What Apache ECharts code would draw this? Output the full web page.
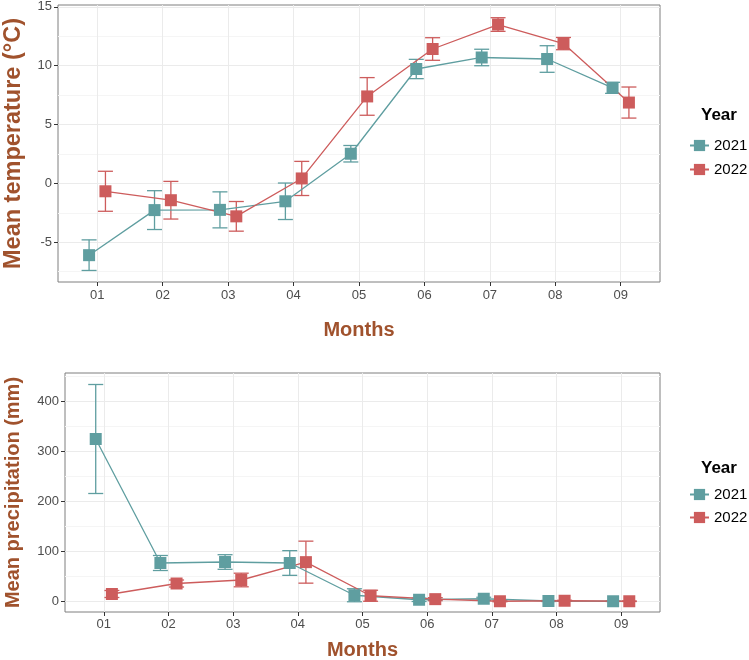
<!DOCTYPE html>
<html>
<head>
<meta charset="utf-8">
<script src="https://cdn.jsdelivr.net/npm/echarts@6/dist/echarts.min.js"></script>
<style>
html,body{margin:0;padding:0;background:#fff;}
#c{width:749px;height:660px;}
</style>
</head>
<body>
<div id="c"></div>
<script>
// ---- data ----
const months = ['01','02','03','04','05','06','07','08','09'];
const years = ['2021','2022'];
const temp2021   = [-6.1, -2.27, -2.25, -1.52, 2.52, 9.72, 10.7, 10.57, 8.12];
const temp2021Se = [1.3, 1.65, 1.53, 1.55, 0.7, 0.82, 0.7, 1.13, 0.47];
const temp2022   = [-0.67, -1.43, -2.8, 0.42, 7.39, 11.42, 13.5, 11.88, 6.87];
const temp2022Se = [1.7, 1.6, 1.26, 1.45, 1.6, 0.96, 0.58, 0.52, 1.32];
const prec2021   = [325, 77, 79, 77, 12.5, 3.5, 5.5, 1, 0.5];
const prec2021Se = [109, 15, 14.6, 24.7, 13, 3.5, 3, 1, 0.5];
const prec2022   = [15, 36, 43, 78.7, 11.5, 4.7, 0.5, 1.5, 0.5];
const prec2022Se = [7, 7, 13.6, 42, 11, 3, 1, 1, 0.5];
const tempTicks = [-5, 0, 5, 10, 15];
const tempMinor = [-7.5, -2.5, 2.5, 7.5, 12.5];
const precTicks = [0, 100, 200, 300, 400];
const precMinor = [50, 150, 250, 350, 450];

// ---- style ----
const COLORS = {'2021': '#5F9EA0', '2022': '#CD5C5C'};
const DODGE = 0.125;
const FONT = 'Liberation Sans';
const TITLE_COLOR = '#A0522D';
const monthPos = months.map((m, i) => i + 1);

function pts(vals, off) { return vals.map((v, i) => [monthPos[i] + off, v]); }
function errs(vals, se, off) { return vals.map((v, i) => [monthPos[i] + off, v, v - se[i], v + se[i]]); }

function errRender(params, api) {
  const x = api.value(0);
  const lo = api.coord([x, api.value(2)]);
  const hi = api.coord([x, api.value(3)]);
  const w = 7.5;
  const style = {stroke: api.visual('color'), lineWidth: 1.3, fill: null};
  return {type: 'group', children: [
    {type: 'line', shape: {x1: hi[0], y1: hi[1], x2: lo[0], y2: lo[1]}, style: style},
    {type: 'line', shape: {x1: hi[0] - w, y1: hi[1], x2: hi[0] + w, y2: hi[1]}, style: style},
    {type: 'line', shape: {x1: lo[0] - w, y1: lo[1], x2: lo[0] + w, y2: lo[1]}, style: style}
  ]};
}

function lineSeries(name, vals, off, idx) {
  return {
    type: 'line', name: name, xAxisIndex: idx, yAxisIndex: idx * 2,
    data: pts(vals, off), symbol: 'rect', symbolSize: 12, showSymbol: true,
    color: COLORS[name], lineStyle: {width: 1.3, color: COLORS[name]},
    itemStyle: {color: COLORS[name]}, z: 3, animation: false
  };
}
function errSeries(name, vals, se, off, idx) {
  return {
    type: 'custom', name: name + ' se', xAxisIndex: idx, yAxisIndex: idx * 2,
    data: errs(vals, se, off), renderItem: errRender,
    itemStyle: {color: COLORS[name]}, encode: {x: 0, y: [1, 2, 3]}, z: 2, animation: false
  };
}

const labelStyle = {color: '#4D4D4D', fontSize: 13, fontFamily: FONT};
function xAxis(gridIndex, margin, nameGap) {
  return {
    type: 'value', gridIndex: gridIndex, min: 0.4, max: 9.6, position: 'bottom',
    name: 'Months', nameLocation: 'middle', nameGap: nameGap,
    nameTextStyle: {color: TITLE_COLOR, fontSize: 20, fontWeight: 'bold', fontFamily: FONT},
    axisLine: {show: false, onZero: false},
    axisTick: {show: true, length: 4, lineStyle: {color: '#333'}, customValues: monthPos},
    axisLabel: Object.assign({margin: margin, customValues: monthPos,
      formatter: v => months[Math.round(v) - 1]}, labelStyle),
    splitLine: {show: true, lineStyle: {color: '#EBEBEB', width: 1}}
  };
}
function yAxes(gridIndex, min, max, ticks, minor, name, nameSize, nameGap) {
  return [{
    type: 'value', gridIndex: gridIndex, min: min, max: max, position: 'left',
    name: name, nameLocation: 'middle', nameGap: nameGap, nameRotate: 90,
    nameTextStyle: {color: TITLE_COLOR, fontSize: nameSize, fontWeight: 'bold', fontFamily: FONT},
    axisLine: {show: false, onZero: false},
    axisTick: {show: true, length: 4, lineStyle: {color: '#333'}, customValues: ticks},
    axisLabel: Object.assign({margin: 6, customValues: ticks}, labelStyle),
    splitLine: {show: true, lineStyle: {color: '#EBEBEB', width: 1}}
  }, {
    type: 'value', gridIndex: gridIndex, min: min, max: max, position: 'left',
    axisLine: {show: false, onZero: false}, axisLabel: {show: false},
    axisTick: {show: false, customValues: minor},
    splitLine: {show: true, lineStyle: {color: '#F5F5F5', width: 1}}
  }];
}

const chart = echarts.init(document.getElementById('c'), null, {renderer: 'canvas'});
chart.setOption({
  backgroundColor: '#fff',
  animation: false,
  textStyle: {fontFamily: FONT},
  grid: [
    {left: 58, top: 5, width: 602, height: 277, show: true, borderColor: '#7F7F7F', borderWidth: 1,
     backgroundColor: '#fff', containLabel: false, outerBoundsMode: 'none'},
    {left: 65, top: 373, width: 595, height: 239, show: true, borderColor: '#7F7F7F', borderWidth: 1,
     backgroundColor: '#fff', containLabel: false, outerBoundsMode: 'none'}
  ],
  xAxis: [xAxis(0, 7, 38), xAxis(1, 6, 28)],
  yAxis: yAxes(0, -8.38, 15.16, tempTicks, tempMinor, 'Mean temperature (°C)', 23.5, 32)
    .concat(yAxes(1, -21, 457, precTicks, precMinor, 'Mean precipitation (mm)', 20, 42)),
  title: [
    {text: 'Year', left: 696, top: 102, textStyle: {fontSize: 17, fontWeight: 'bold', color: '#000', fontFamily: FONT}},
    {text: 'Year', left: 696, top: 455, textStyle: {fontSize: 17, fontWeight: 'bold', color: '#000', fontFamily: FONT}}
  ],
  legend: [
    {data: years, left: 684, top: 133, orient: 'vertical', itemWidth: 19, itemHeight: 14, itemGap: 9,
     textStyle: {fontSize: 15, color: '#000', fontFamily: FONT}, selectedMode: false},
    {data: years, left: 684, top: 482, orient: 'vertical', itemWidth: 19, itemHeight: 14, itemGap: 8,
     textStyle: {fontSize: 15, color: '#000', fontFamily: FONT}, selectedMode: false}
  ],
  series: [
    lineSeries('2021', temp2021, -DODGE, 0),
    lineSeries('2022', temp2022, DODGE, 0),
    errSeries('2021', temp2021, temp2021Se, -DODGE, 0),
    errSeries('2022', temp2022, temp2022Se, DODGE, 0),
    lineSeries('2021', prec2021, -DODGE, 1),
    lineSeries('2022', prec2022, DODGE, 1),
    errSeries('2021', prec2021, prec2021Se, -DODGE, 1),
    errSeries('2022', prec2022, prec2022Se, DODGE, 1)
  ]
});
</script>
</body>
</html>
